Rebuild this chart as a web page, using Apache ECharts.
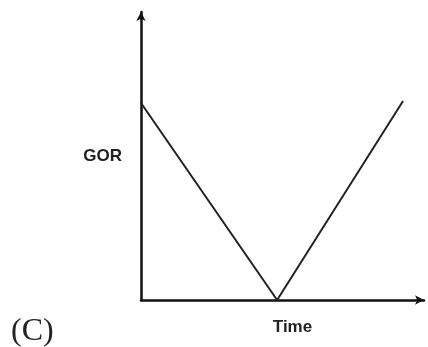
<!DOCTYPE html>
<html>
<head>
<meta charset="utf-8">
<script src="https://cdn.jsdelivr.net/npm/echarts@6/dist/echarts.min.js"></script>
<style>
  html, body { margin: 0; padding: 0; background: #fff; }
  #chart { width: 428px; height: 347px; }
</style>
</head>
<body>
<div id="chart"></div>
<script>
// GOR vs time: falls to zero, then rises again
const timeValues = [0, 4.81, 9.26]
const gorValues = [6.84, 0, 6.91]

const points = timeValues.map((t, i) => [t, gorValues[i]])

const myChart = echarts.init(document.getElementById('chart'))

const axisLine = {
    show: true,
    symbol: ['none', 'arrow'],
    symbolSize: [7, 9],
    lineStyle: { color: '#111', width: 2.5 }
}

myChart.setOption({
    animation: false,
    title: {
        text: '(C)',
        left: 6,
        top: 311,
        textStyle: {
            fontFamily: '"Liberation Serif", "DejaVu Serif", serif',
            fontSize: 32,
            fontWeight: 'normal',
            color: '#222'
        }
    },
    grid: { left: 141, right: 4, top: 12, bottom: 47 },
    xAxis: {
        type: 'value',
        min: 0,
        max: 10,
        name: 'Time',
        nameLocation: 'middle',
        nameGap: 19,
        nameTextStyle: {
            fontFamily: '"Liberation Sans", Arial, sans-serif',
            fontSize: 17,
            fontWeight: 'bold',
            color: '#222',
            padding: [0, 0, 0, 20]
        },
        axisLine: axisLine,
        axisTick: { show: false },
        axisLabel: { show: false },
        splitLine: { show: false }
    },
    yAxis: {
        type: 'value',
        min: 0,
        max: 10,
        name: 'GOR',
        nameLocation: 'middle',
        nameRotate: 0,
        nameGap: 19,
        nameTextStyle: {
            fontFamily: '"Liberation Sans", Arial, sans-serif',
            fontSize: 17,
            fontWeight: 'bold',
            color: '#222',
            padding: [5, 0, 0, 0]
        },
        axisLine: axisLine,
        axisTick: { show: false },
        axisLabel: { show: false },
        splitLine: { show: false }
    },
    series: [{
        type: 'line',
        data: points,
        symbol: 'none',
        lineStyle: { color: '#222', width: 2 }
    }]
})
</script>
</body>
</html>
